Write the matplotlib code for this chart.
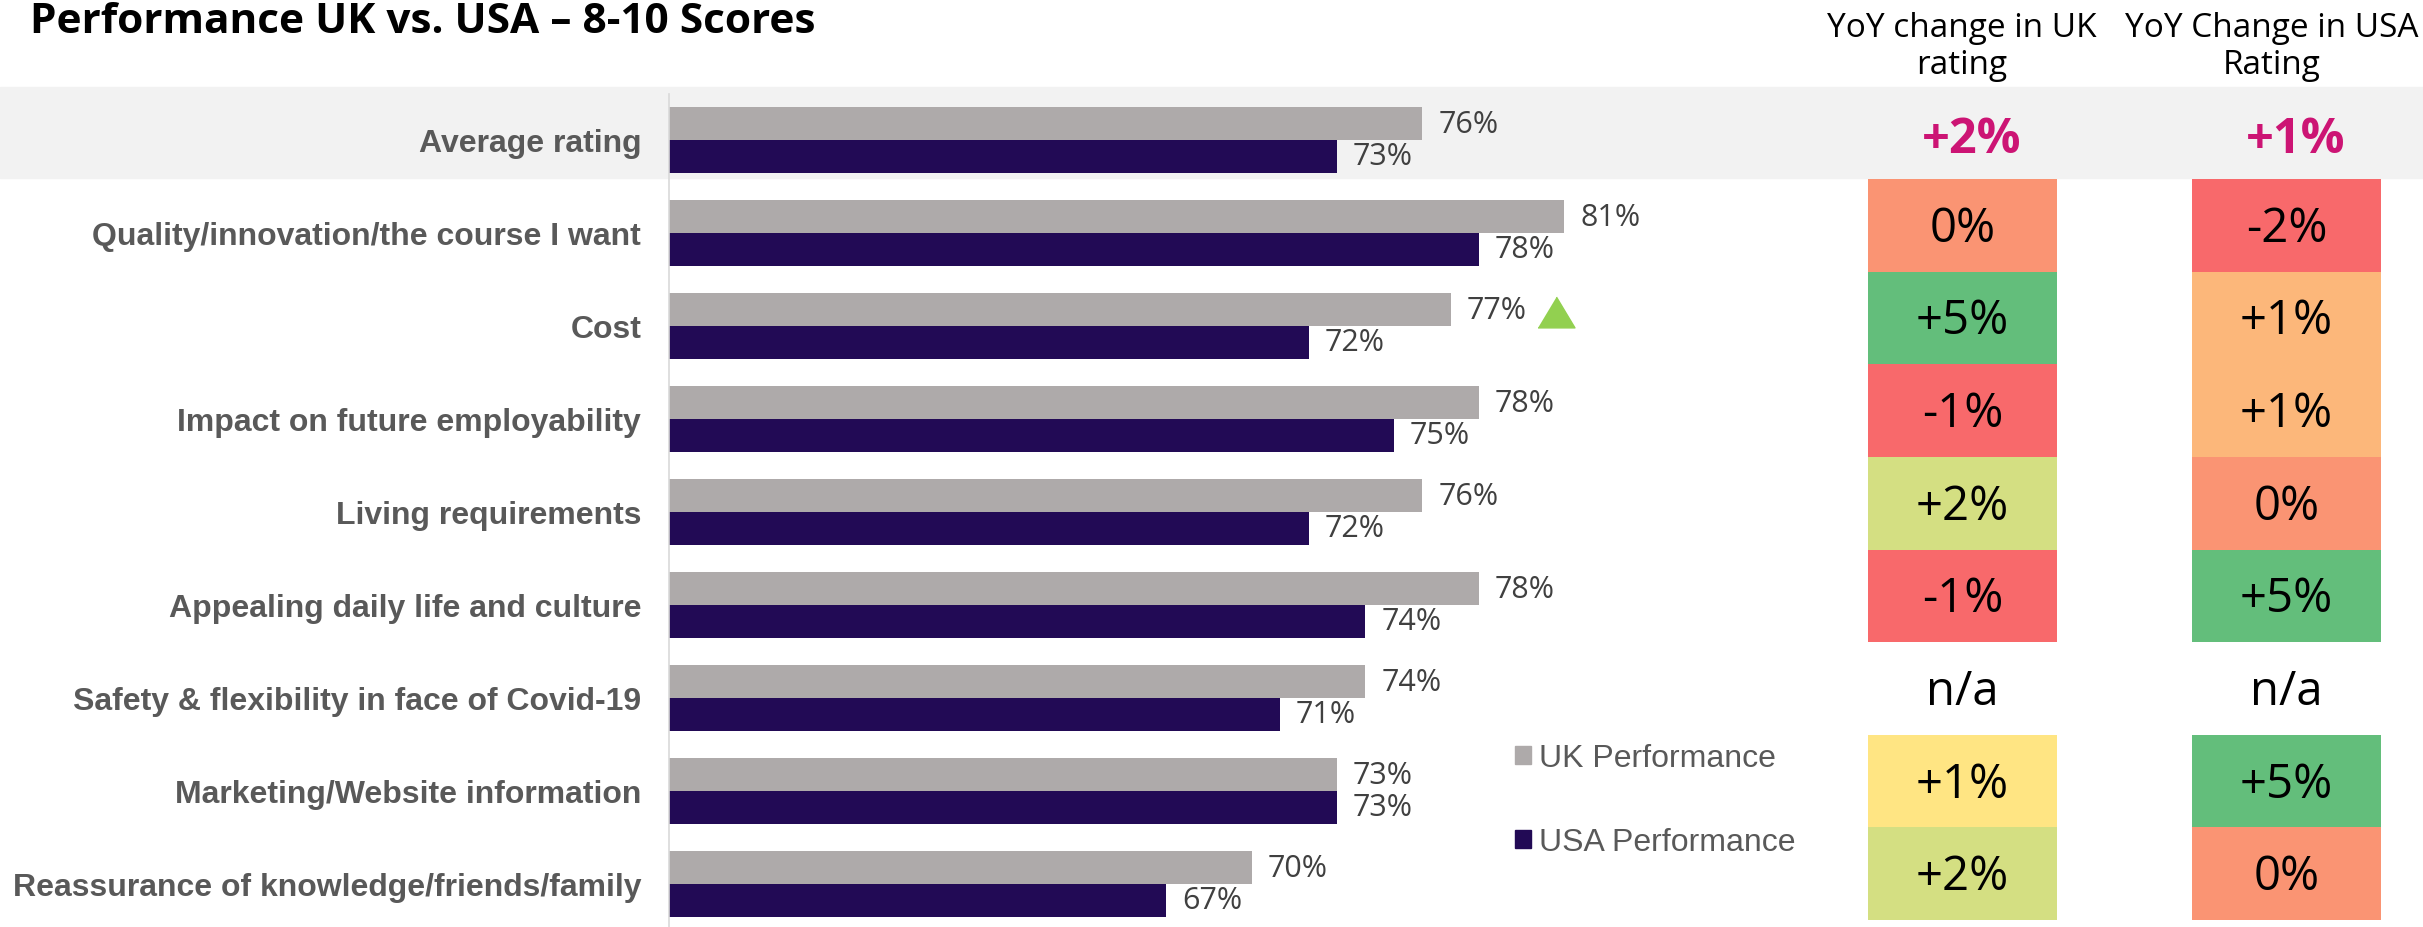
import matplotlib.pyplot as plt
from matplotlib.patches import Rectangle, Patch
from matplotlib.transforms import offset_copy

categories = ["Average rating",
              "Quality/innovation/the course I want",
              "Cost",
              "Impact on future employability",
              "Living requirements",
              "Appealing daily life and culture",
              "Safety & flexibility in face of Covid-19",
              "Marketing/Website information",
              "Reassurance of knowledge/friends/family"]
uk = [76, 81, 77, 78, 76, 78, 74, 73, 70]
usa = [73, 78, 72, 75, 72, 74, 71, 73, 67]

# YoY change per row, first entry is the average row, None = n/a
uk_yoy = [2, 0, 5, -1, 2, -1, None, 1, 2]
usa_yoy = [1, -2, 1, 1, 0, 5, None, 5, 0]
uk_cell_colors = ['#FA9473', '#63BE7B', '#F8696B', '#D4DF82', '#F8696B', None, '#FFE583', '#D4DF82']
usa_cell_colors = ['#F8696B', '#FCB77A', '#FCB77A', '#FA9473', '#63BE7B', None, '#63BE7B', '#FA9473']

UK_COL = '#AEAAAA'
USA_COL = '#220A55'
W, H = 2423, 928


def fmt(v):
    if v is None:
        return 'n/a'
    return '0%' if v == 0 else f'{v:+d}%'


fig = plt.figure(figsize=(W / 100, H / 100), dpi=100)

# grey band behind the average row
fig.patches.append(Rectangle((0, 1 - 179 / H), 1, 91 / H, transform=fig.transFigure,
                             color='#F2F2F2', zorder=-10))

fig.text(30 / W, 1 - 33 / H, 'Performance UK vs. USA \u2013 8-10 Scores', family='Open Sans',
         fontweight='bold', fontsize=30.5, va='baseline', ha='left')

ax = fig.add_axes([669 / W, (H - 931.5) / H, (1806 - 669) / W, 837 / H])
ax.set_facecolor('none')
rows = list(range(len(categories)))
ax.barh([r - 0.175 for r in rows], uk, height=0.35, color=UK_COL)
ax.barh([r + 0.175 for r in rows], usa, height=0.35, color=USA_COL)
ax.set_xlim(49.5, 89.5)
ax.set_ylim(8.5, -0.5)
for s in ['top', 'right', 'bottom']:
    ax.spines[s].set_visible(False)
ax.spines['left'].set_color('#D9D9D9')
ax.spines['left'].set_linewidth(1.2)
ax.set_xticks([])
ax.set_yticks(rows, labels=categories)
ax.tick_params(axis='y', length=0, pad=20)
for lab in ax.get_yticklabels():
    lab.set_family('Liberation Sans')
    lab.set_fontweight('bold')
    lab.set_fontsize(23)
    lab.set_color('#595959')

for r in rows:
    ax.annotate(f'{uk[r]}%', (uk[r], r - 0.175), xytext=(11.5, 0), textcoords='offset points',
                va='center', ha='left', fontsize=22, color='#404040', family='Open Sans')
    ax.annotate(f'{usa[r]}%', (usa[r], r + 0.175), xytext=(11.5, 0), textcoords='offset points',
                va='center', ha='left', fontsize=22, color='#404040', family='Open Sans')

# green up-arrow next to the Cost score
tri = [(-0.6, -0.5), (0.6, -0.5), (0, 0.5)]
ax.plot(uk[2], 2 - 0.175, marker=tri, ms=26.6, color='#92D050', linestyle='none',
        transform=offset_copy(ax.transData, fig=fig, x=105, y=-2.5, units='dots'))

ax.legend(handles=[Patch(color=UK_COL, label='UK Performance'),
                   Patch(color=USA_COL, label='USA Performance')],
          loc='upper left', bbox_to_anchor=(1515 / W, 1 - 744 / H), bbox_transform=fig.transFigure,
          frameon=False, handlelength=0.5, handleheight=0.5, handletextpad=0.25,
          labelspacing=1.7, borderpad=0, borderaxespad=0, labelcolor='#595959',
          prop={'family': 'Liberation Sans', 'size': 23})

# YoY heat columns: cell left edge, header centre, header text
columns = [(1868, 1962, 'YoY change in UK\nrating', uk_yoy, uk_cell_colors),
           (2192, 2272, 'YoY Change in USA\nRating', usa_yoy, usa_cell_colors)]
for x0, hc, title, vals, cols in columns:
    hx = fig.add_axes([x0 / W, (H - 921) / H, 189 / W, 741 / H])
    hx.set_xlim(0, 1)
    hx.set_ylim(8.5, 0.5)
    hx.axis('off')
    for r, (v, c) in enumerate(zip(vals[1:], cols), start=1):
        if c is not None:
            hx.barh(r, 1, left=0, height=1, color=c)
        hx.text(0.5, r + 0.03, fmt(v), ha='center', va='center', fontsize=34, color='black',
                family='Open Sans')
    hx.text(0.55, 0.07, fmt(vals[0]), ha='center', va='center', fontsize=35, fontweight='bold',
            color='#CC1474', family='Open Sans')
    fig.text(hc / W, 1 - 47 / H, title, ha='center', va='center', fontsize=24,
             color='black', family='Open Sans', linespacing=1.15)

fig.savefig('out.png', dpi=100)
